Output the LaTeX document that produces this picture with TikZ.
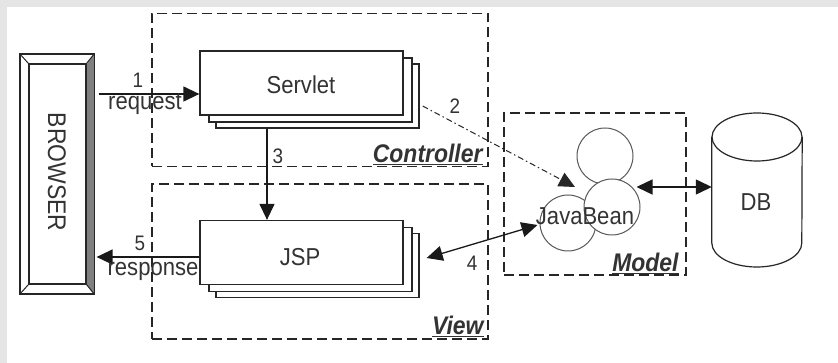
\documentclass[tikz,border=0pt]{standalone}
\usepackage{fontspec}
\setmainfont{Liberation Sans}[FakeStretch=0.9]
\usetikzlibrary{arrows.meta,calc}

\tikzset{
  group/.style={draw=black!85, line width=1.5pt, dash pattern=on 10pt off 5pt},
  card/.style={draw=black!85, line width=1.3pt, fill=white, minimum width=203pt,
               minimum height=64pt, inner sep=0pt},
  lbl/.style={font=\fontsize{24.5}{26}\selectfont, text=black!80, inner sep=0pt},
  num/.style={font=\fontsize{21}{23}\selectfont, text=black!80, inner sep=0pt},
  layer/.style={font=\fontsize{25.5}{27}\selectfont\bfseries\itshape, text=black!80,
                inner sep=0pt, anchor=south east},
  tip/.style={-{Triangle[length=16pt,width=15pt]}},
  arr/.style={draw=black!90, line width=1.3pt, tip},
  twoway/.style={draw=black!90, line width=1.3pt,
                 {Triangle[length=16pt,width=15pt]}-{Triangle[length=16pt,width=15pt]}},
  bean/.style={circle, draw=black!65, line width=1pt, fill=white,
               minimum size=56pt, inner sep=0pt},
}

\begin{document}
\begin{tikzpicture}[x=1pt, y=-1pt]
\useasboundingbox (0,0) rectangle (838,363);
\fill[white] (0,0) rectangle (838,363);
\fill[black!10] (0,0) rectangle (838,7);
\fill[black!10] (0,0) rectangle (7,363);

% browser with bevelled frame
\node[draw=black!85, line width=1.2pt, minimum width=74pt, minimum height=240pt,
      inner sep=0pt] (browser) at (57,174) {};
\fill[black!50] (browser.north east) -- (browser.south east)
      -- ++(-8,-10) -- ++(0,-220) -- cycle;
\node[draw=black!85, line width=1.1pt, minimum width=57pt, minimum height=220pt,
      inner sep=0pt] (browserin) at (57.5,174) {};
\draw[black!85, line width=1pt]
  (browser.north west) -- (browserin.north west)
  (browser.north east) -- (browserin.north east)
  (browser.south west) -- (browserin.south west)
  (browser.south east) -- (browserin.south east);
\draw[black!85, line width=1.3pt] (browser.north west) rectangle (browser.south east);
\node[lbl, rotate=-90, font=\fontsize{25.5}{27}\selectfont] at (57,172) {BROWSER};

% layer frames
\node[group, minimum width=336pt, minimum height=153pt, inner sep=0pt] (ctrl) at (320,90) {};
\node[group, minimum width=336pt, minimum height=155pt, inner sep=0pt] (view) at (320,261.5) {};
\node[group, minimum width=182pt, minimum height=162pt, inner sep=0pt] (model) at (595,194) {};

\node[layer] at ($(ctrl.south east)+(-6,-2)$) {\underline{Controller}};
\node[layer] at ($(view.south east)+(-5,-3)$) {\underline{View}};
\node[layer] at ($(model.south east)+(-8,-2)$) {\underline{Model}};

% servlet stack
\node[card] (servletC) at (317.5,96) {};
\node[card] (servletB) at (310.5,90) {};
\node[card] (servlet) at (301.5,83) {};
\node[lbl] at (301,85) {Servlet};

% jsp stack
\node[card] (jspC) at (317.5,265.5) {};
\node[card] (jspB) at (310.5,259.5) {};
\node[card] (jsp) at (301.5,252.5) {};
\node[lbl] at (300,257.5) {JSP};

% javabeans
\node[bean] (beanT) at (605,156) {};
\node[bean] (beanL) at (568,223) {};
\node[bean] (beanR) at (612,207) {};
\node[lbl] (bean) at (585,216) {JavaBean};

% database cylinder
\node[minimum width=90pt, minimum height=154pt, inner sep=0pt] (db) at (757,190) {};
\draw[black!85, line width=1.2pt, fill=white]
  (db.west |- 0,137) -- (db.west |- 0,243)
  arc[start angle=180, end angle=360, x radius=45pt, y radius=24pt]
  -- (db.east |- 0,137);
\draw[black!85, line width=1.2pt] (757,137) ellipse [x radius=45pt, y radius=24pt];
\node[lbl] at (756,202) {DB};

% connectors
\coordinate (c3) at (267,0);
\draw[arr] ($(browser.east)+(4,-80)$) -- ($(servlet.west)+(0,11)$);
\node[num] at (138,80) {1};
\node[lbl, text height=1.35ex, text depth=0.45ex] at (145,107) {request};

\draw[arr] (servletC.south -| c3) -- (jsp.north -| c3);
\node[num] at (278,156) {3};

\draw[arr] ($(jsp.west)+(0,4.5)$) -- ($(browser.east)+(2,83)$);
\node[num] at (140,243.5) {5};
\node[lbl, text height=1.05ex, text depth=0.45ex] at (153,273.5) {response};

\coordinate (t2) at (575,187);
\draw[draw=black!85, line width=1pt, dash pattern=on 6pt off 3pt on 1.5pt off 3pt, tip]
  ($(servletC.east)+(3,10)$) -- (t2);
\node[num] at (455,106) {2};

\draw[twoway] ($(jspC.east)+(7,-7.5)$) -- ($(beanL.west)+(-2,2)$);
\node[num] at (472,263) {4};

\draw[twoway] ($(beanR.east)+(-4,-20)$) -- (db.west |- 0,187);
\end{tikzpicture}
\end{document}
